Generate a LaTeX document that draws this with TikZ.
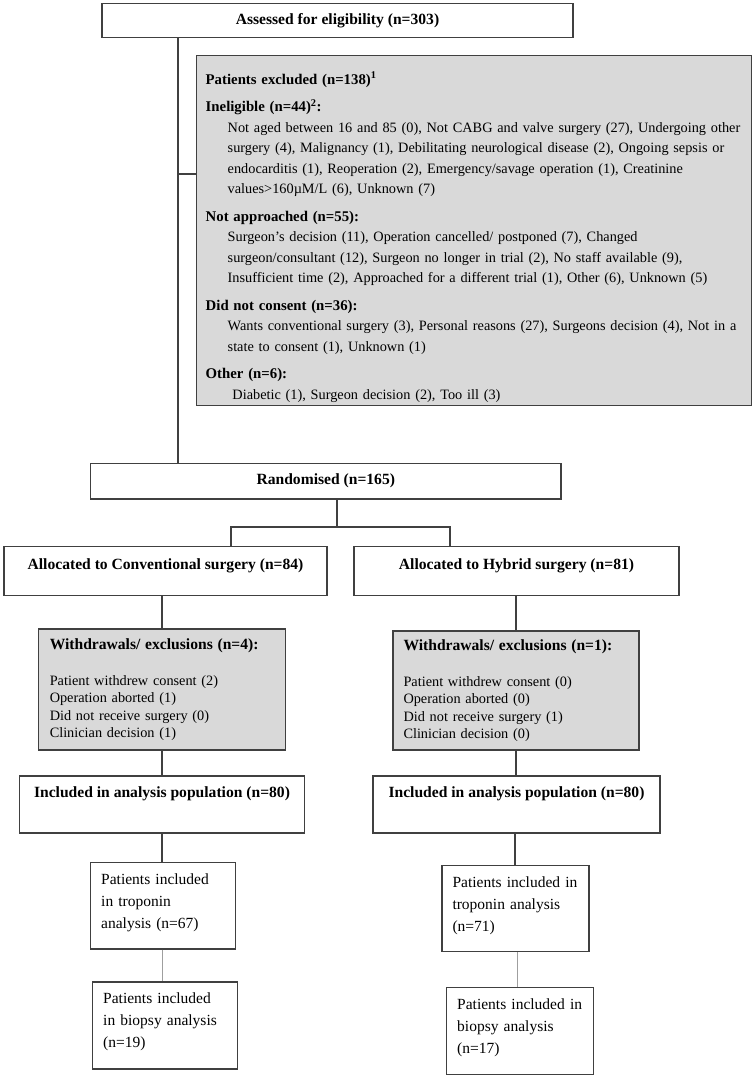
\documentclass[tikz,border=0pt]{standalone}
\usepackage{fontspec}
\setmainfont{Liberation Serif}
\usetikzlibrary{positioning}

\definecolor{boxline}{HTML}{404040}
\definecolor{boxgray}{HTML}{D9D9D9}
\newcommand{\headfont}{\fontsize{15.6}{20}\selectfont\bfseries}
\newcommand{\exfont}{\fontsize{14.3}{20.5}\selectfont}
\newcommand{\wdfont}{\fontsize{14.3}{17.3}\selectfont}
\newcommand{\trfont}{\fontsize{15.5}{22}\selectfont}
\newcommand{\exhead}[1]{{\fontsize{14.8}{20.5}\selectfont\bfseries #1}}
\newcommand{\exitem}[1]{\hspace*{22pt}\mbox{#1}}

\begin{document}
\begin{tikzpicture}[x=1pt, y=-1pt,
    box/.style={draw=boxline, line width=1.2pt, fill=white, inner sep=0pt, align=center, font=\headfont},
    shaded/.style={box, fill=boxgray, align=left},
    textbox/.style={box, align=left, font=\trfont, inner xsep=10.5pt, text width=#1},
    link/.style={draw=boxline, line width=1.2pt},
    thinlink/.style={draw=gray!75, line width=0.7pt}]
  \useasboundingbox (0,0) rectangle (755,1078);

  \node[box, minimum width=471, minimum height=34.4] (assess) at (337.5,20.5)
    {Assessed for eligibility (n=303)};
  \node[shaded, font=\exfont, inner xsep=9pt, text width=537, minimum height=349.6] (excluded) at (474.2,230.5)
    {\mbox{}\\[5pt]
     \exhead{Patients excluded (n=138)\textsuperscript{1}}\\[7pt]
     \exhead{Ineligible (n=44)\textsuperscript{2}:}\\
     \exitem{Not aged between 16 and 85 (0), Not CABG and valve surgery (27), Undergoing other}\\
     \exitem{surgery (4), Malignancy (1), Debilitating neurological disease (2), Ongoing sepsis or}\\
     \exitem{endocarditis (1), Reoperation (2), Emergency/savage operation (1), Creatinine}\\
     \exitem{values>160µM/L (6), Unknown (7)}\\[7pt]
     \exhead{Not approached (n=55):}\\
     \exitem{Surgeon’s decision (11), Operation cancelled/ postponed (7), Changed}\\
     \exitem{surgeon/consultant (12), Surgeon no longer in trial (2), No staff available (9),}\\
     \exitem{Insufficient time (2), Approached for a different trial (1), Other (6), Unknown (5)}\\[7pt]
     \exhead{Did not consent (n=36):}\\
     \exitem{Wants conventional surgery (3), Personal reasons (27), Surgeons decision (4), Not in a}\\
     \exitem{state to consent (1), Unknown (1)}\\[7pt]
     \exhead{Other (n=6):}\\
     \exitem{\ Diabetic (1), Surgeon decision (2), Too ill (3)}};
  \node[box, minimum width=470.5, minimum height=35.5] (rand) at (325.8,481.2)
    {Randomised (n=165)};

  \node[box, minimum width=323, minimum height=49] (conv) at (165.5,571.2)
    {Allocated to Conventional surgery (n=84)\\[-6pt]\mbox{}};
  \node[box, minimum width=325, minimum height=49] (hyb) at (516.5,571.2)
    {Allocated to Hybrid surgery (n=81)\\[-6pt]\mbox{}};

  \node[shaded, font=\wdfont, inner xsep=11pt, text width=224.5, minimum height=121] (withL) at (162,689.5)
    {\textbf{\headfont Withdrawals/ exclusions (n=4):}\\[18.7pt]
     Patient withdrew consent (2)\\
     Operation aborted (1)\\
     Did not receive surgery (0)\\
     Clinician decision (1)};
  \node[shaded, font=\wdfont, inner xsep=10.5pt, text width=225, minimum height=119] (withR) at (516,690.5)
    {\textbf{\headfont Withdrawals/ exclusions (n=1):}\\[18.7pt]
     Patient withdrew consent (0)\\
     Operation aborted (0)\\
     Did not receive surgery (1)\\
     Clinician decision (0)};

  \node[box, minimum width=285, minimum height=57] (inclL) at (162,804.5)
    {Included in analysis population (n=80)\\[4pt]\mbox{}};
  \node[box, minimum width=287, minimum height=57] (inclR) at (516.5,804.5)
    {Included in analysis population (n=80)\\[4pt]\mbox{}};

  \node[textbox=124, minimum height=86.3] (tropL) at (163.2,905.9)
    {Patients included\\ in troponin\\ analysis (n=67)\\[-12pt]\mbox{}};
  \node[textbox=126, minimum height=86] (tropR) at (515.5,908.7)
    {Patients included in\\ troponin analysis\\ (n=71)\\[-12pt]\mbox{}};
  \node[textbox=124, minimum height=87] (bioL) at (165.2,1025.5)
    {Patients included\\ in biopsy analysis\\ (n=19)\\[-12pt]\mbox{}};
  \node[textbox=126, minimum height=86.6] (bioR) at (520.2,1031)
    {Patients included in\\ biopsy analysis\\ (n=17)\\[-12pt]\mbox{}};

  \coordinate (trunk) at (178,174);
  \coordinate (fork) at (337,527);
  \coordinate (forkL) at (231,527);
  \coordinate (forkR) at (450,527);

  \path[link] (assess.south -| trunk) -- (rand.north -| trunk);
  \path[link] (trunk) -- (trunk -| excluded.west);
  \path[link] (rand.south -| fork) -- (fork);
  \path[link] (conv.north -| forkL) -- (forkL) -- (forkR) -- (hyb.north -| forkR);
  \path[link] (withL.north |- conv.south) -- (withL.north);
  \path[link] (withR.north |- hyb.south) -- (withR.north);
  \path[link] (withL.south) -- (withL.south |- inclL.north);
  \path[link] (withR.south) -- (withR.south |- inclR.north);
  \path[link] (inclL.south) -- (inclL.south |- tropL.north);
  \path[link] (inclR.south -| 515,0) -- (tropR.north -| 515,0);
  \path[thinlink] (tropL.south -| 162,0) -- (bioL.north -| 162,0);
  \path[thinlink] (tropR.south -| 517,0) -- (bioR.north -| 517,0);
\end{tikzpicture}
\end{document}
